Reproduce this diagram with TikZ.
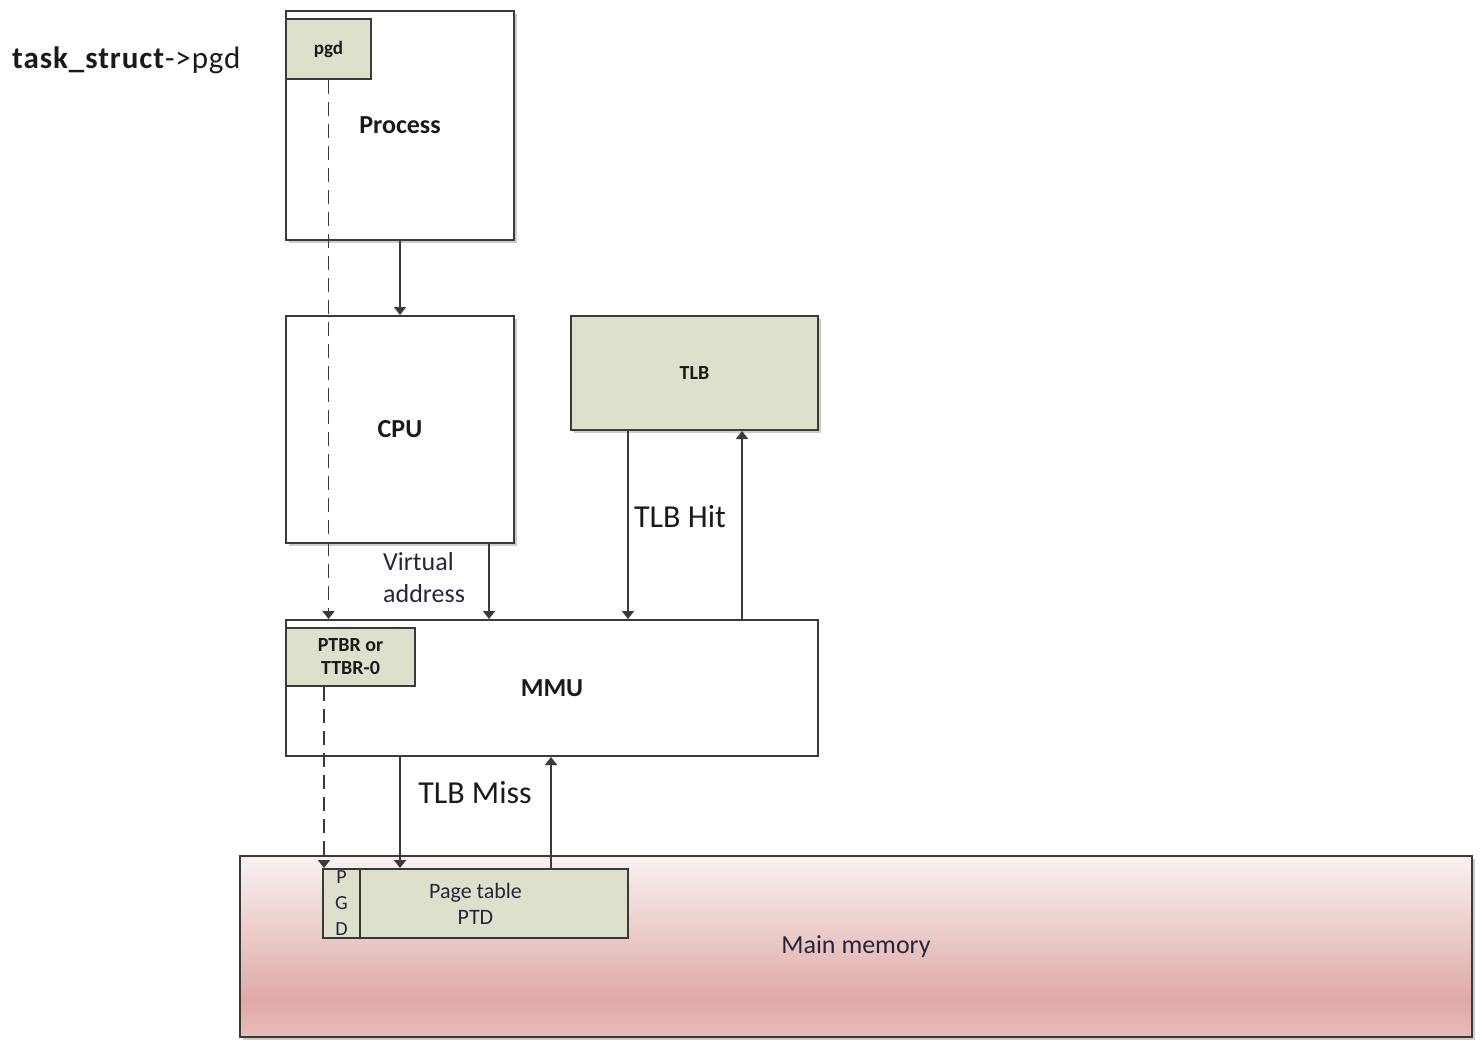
\documentclass[tikz,border=0pt]{standalone}
\usepackage{fontspec}
\setmainfont{Carlito}
\usetikzlibrary{arrows.meta,shadows}
\definecolor{boxgreen}{HTML}{DDE0CB}
\definecolor{edge}{HTML}{3A3A3A}
\definecolor{memtop}{HTML}{FAF2F2}
\definecolor{memdark}{HTML}{DFA9A6}
\definecolor{memlow}{HTML}{E8BDBB}
\definecolor{txt}{HTML}{1A1A1A}
\definecolor{txtb}{HTML}{252540}
\pgfdeclareverticalshading{memshade}{100bp}{color(0bp)=(memlow); color(25bp)=(memlow); color(35bp)=(memdark); color(75bp)=(memtop); color(100bp)=(memtop)}
\newcommand{\fs}[2]{\fontsize{#1}{#2}\selectfont}
\begin{document}
\begin{tikzpicture}[x=1pt,y=-1pt,
  box/.style={draw=edge,line width=2pt,fill=white,inner sep=0pt,text=txt},
  gbox/.style={box,fill=boxgreen},
  shad/.style={drop shadow={opacity=0.4,shadow xshift=2.5pt,shadow yshift=-3pt}},
  arr/.style={draw=edge,line width=1.8pt,-{Triangle[width=12pt,length=8pt]}},
  darr/.style={arr,dash pattern=on 14pt off 8pt},
  lbl/.style={text=txt,inner sep=0pt}]
\useasboundingbox (0,0) rectangle (1482,1052);
% boxes
\node[box,shad,minimum width=228pt,minimum height=229pt,font=\fs{26}{31}\bfseries] (process) at (400,125.5) {Process};
\node[gbox,minimum width=85pt,minimum height=60pt,font=\fs{19}{23}\bfseries] (pgd) at (328.5,49) {pgd};
\node[box,shad,minimum width=228pt,minimum height=227pt,font=\fs{26}{31}\bfseries] (cpu) at (400,429.5) {CPU};
\node[gbox,shad,minimum width=247pt,minimum height=114pt,font=\fs{20}{24}\bfseries] (tlb) at (694.5,373) {TLB};
\node[box,minimum width=532pt,minimum height=136pt,font=\fs{26}{31}\bfseries] (mmu) at (552,688) {MMU};
\node[gbox,minimum width=129pt,minimum height=58pt,font=\fs{20}{23}\bfseries,align=center] (ptbr) at (350.5,657) {PTBR or\\TTBR-0};
\node[draw=edge,line width=2pt,shading=memshade,shad,inner sep=0pt,minimum width=1232pt,minimum height=181pt,text=txtb,font=\fs{26}{31}] (mem) at (856,946.5) {Main memory};
\node[gbox,minimum width=305pt,minimum height=69pt,font=\fs{22}{26},align=center,text=txtb] (pt) at (475.5,903.5) {Page table\\PTD};
\node[gbox,minimum width=37pt,minimum height=69pt,font=\fs{20}{26},align=center,text=txtb] (pgdm) at (341.5,903.5) {P\\G\\D};
% labels
\node[lbl,anchor=west,font=\fs{31}{36}\addfontfeatures{LetterSpace=3}] (ts) at (12,60) {\textbf{task\_struct}->pgd};
\node[lbl,anchor=west,font=\fs{26}{32},text=txtb,align=left] (va) at (383,578) {Virtual\\address};
\node[lbl,font=\fs{32}{38}] (hit) at (680,517) {TLB Hit};
\node[lbl,font=\fs{32}{38}] (miss) at (475,793) {TLB Miss};
% x-positions
\coordinate (xva) at (489,0);
\coordinate (xhd) at (628,0);
\coordinate (xhu) at (742,0);
\coordinate (xmd) at (400,0);
\coordinate (xmu) at (551,0);
\coordinate (xd2) at (324,0);
% connectors
\draw[arr] (process.south) -- (cpu.north);
\draw[arr] (xva |- cpu.south) -- (xva |- mmu.north);
\draw[arr] (xhd |- tlb.south) -- (xhd |- mmu.north);
\draw[arr] (xhu |- mmu.north) -- (xhu |- tlb.south);
\draw[arr] (xmd |- mmu.south) -- (xmd |- pt.north);
\draw[arr] (xmu |- pt.north) -- (xmu |- mmu.south);
\draw[darr] (pgd.south) -- (pgd.south |- mmu.north);
\draw[darr] (xd2 |- ptbr.south) -- (xd2 |- pt.north);
\end{tikzpicture}
\end{document}
